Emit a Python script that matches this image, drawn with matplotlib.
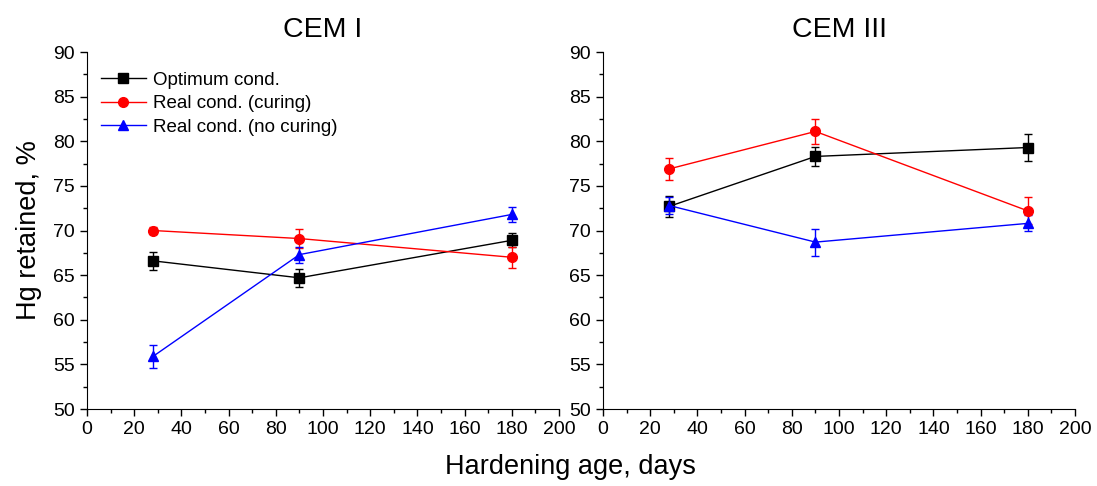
import matplotlib
matplotlib.use("Agg")
import matplotlib.pyplot as plt
from matplotlib.ticker import MultipleLocator
from matplotlib.lines import Line2D

plt.rcParams['font.family'] = ['Liberation Sans', 'DejaVu Sans']

days = [28, 90, 180]
labels = ["Optimum cond.", "Real cond. (curing)", "Real cond. (no curing)"]
colors = ["black", "red", "blue"]
markers = ["s", "o", "^"]

cem1_opt = [66.6, 64.7, 68.9]
cem1_opt_err = [1.0, 1.0, 0.8]
cem1_cur = [70.0, 69.1, 67.0]
cem1_cur_err = [0.4, 1.1, 1.2]
cem1_noc = [55.9, 67.3, 71.8]
cem1_noc_err = [1.3, 0.9, 0.8]

cem3_opt = [72.7, 78.3, 79.3]
cem3_opt_err = [1.2, 1.1, 1.5]
cem3_cur = [76.9, 81.1, 72.2]
cem3_cur_err = [1.2, 1.4, 1.5]
cem3_noc = [72.8, 68.7, 70.8]
cem3_noc_err = [0.9, 1.5, 0.9]

panels = [
    ("CEM I", [(cem1_opt, cem1_opt_err), (cem1_cur, cem1_cur_err), (cem1_noc, cem1_noc_err)]),
    ("CEM III", [(cem3_opt, cem3_opt_err), (cem3_cur, cem3_cur_err), (cem3_noc, cem3_noc_err)]),
]

fig = plt.figure(figsize=(10.97, 4.86), dpi=100)
ax_pos = [[0.0793, 0.1584, 0.4303, 0.7346], [0.5497, 0.1584, 0.4303, 0.7346]]

for i, (title, series) in enumerate(panels):
    ax = fig.add_axes(ax_pos[i])
    handles = []
    for (vals, errs), lab, c, m in zip(series, labels, colors, markers):
        ax.errorbar(days, vals, yerr=errs, color=c, marker=m, markersize=7,
                    linewidth=1, elinewidth=1, capsize=3, capthick=1)
        handles.append(Line2D([], [], color=c, marker=m, markersize=7, linewidth=1, label=lab))
    ax.set_xlim(0, 200)
    ax.set_ylim(50, 90)
    ax.xaxis.set_major_locator(MultipleLocator(20))
    ax.xaxis.set_minor_locator(MultipleLocator(10))
    ax.yaxis.set_major_locator(MultipleLocator(5))
    ax.yaxis.set_minor_locator(MultipleLocator(2.5))
    ax.spines['top'].set_visible(False)
    ax.spines['right'].set_visible(False)
    ax.tick_params(which='major', direction='out', length=5, width=1, labelsize=14)
    ax.tick_params(which='minor', direction='out', length=3, width=1)
    ax.set_title(title, fontsize=20.5, pad=11)
    if i == 0:
        ax.set_ylabel("Hg retained, %", fontsize=19.5, labelpad=8)
        ax.legend(handles=handles, loc='upper left', frameon=False, fontsize=13.5,
                  handlelength=2.4, handletextpad=0.4, labelspacing=0.35,
                  borderaxespad=0.6, bbox_to_anchor=(-0.011, 0.998))

fig.text(0.52, 0.025, "Hardening age, days", ha='center', fontsize=19.5)
fig.savefig("out.png", dpi=100)
